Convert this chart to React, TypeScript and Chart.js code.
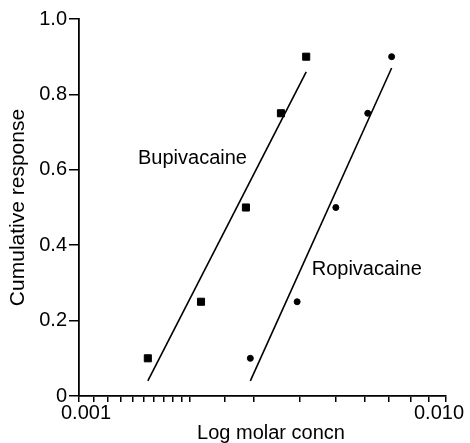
import React, { useEffect, useRef } from 'react';
import { Chart, registerables } from 'chart.js';

Chart.register(...registerables);

// ---- data ----
const RESPONSE = [0.1, 0.25, 0.5, 0.75, 0.9];
const BUPI_CONC = [0.00154, 0.00215, 0.00285, 0.00355, 0.00416];
const ROPI_CONC = [0.00293, 0.00393, 0.00501, 0.00612, 0.00711];

const BUPI_FIT_CONC = [0.00154, 0.00416];
const BUPI_FIT_RESP = [0.04, 0.86];
const ROPI_FIT_CONC = [0.00293, 0.00711];
const ROPI_FIT_RESP = [0.04, 0.87];

const Y_TICK_VALUES = [0, 0.2, 0.4, 0.6, 0.8, 1.0];
const Y_TICK_LABELS = ['0', '0.2', '0.4', '0.6', '0.8', '1.0'];
const X_MIN = 0.001;
const X_MAX = 0.01;
const X_TICK_VALUES = [0.001, 0.01];
const X_TICK_LABELS = ['0.001', '0.010'];

const SERIES_NAMES = ['Bupivacaine', 'Ropivacaine'];
const NAME_ANCHOR_CONC = [0.001448, 0.004306];
const NAME_ANCHOR_RESP = [0.615, 0.32];

const X_TITLE = 'Log molar concn';
const Y_TITLE = 'Cumulative response';

// ---- styles ----
const FONT = '"Liberation Sans", Arial, Helvetica, sans-serif';
const INK = '#000000';

const overlayPlugin = {
  id: 'overlay',
  afterDraw(chart: any) {
    const { ctx } = chart;
    const x = chart.scales.x;
    const y = chart.scales.y;
    ctx.save();
    ctx.fillStyle = INK;
    ctx.font = `20px ${FONT}`;
    ctx.textBaseline = 'alphabetic';
    ctx.textAlign = 'center';
    X_TICK_VALUES.forEach((v, i) => {
      const inset = i === 0 ? 7 : i === X_TICK_VALUES.length - 1 ? -7 : 0;
      ctx.fillText(X_TICK_LABELS[i], x.getPixelForValue(v) + inset, x.top + 23);
    });
    ctx.fillText(X_TITLE, (x.left + x.right) / 2 + 8.5, x.top + 43);
    ctx.textAlign = 'left';
    SERIES_NAMES.forEach((name, i) => {
      ctx.fillText(
        name,
        x.getPixelForValue(NAME_ANCHOR_CONC[i]),
        y.getPixelForValue(NAME_ANCHOR_RESP[i])
      );
    });
    ctx.restore();
  },
};

export default function App() {
  const canvasRef = useRef<HTMLCanvasElement | null>(null);

  useEffect(() => {
    const canvas = canvasRef.current;
    if (!canvas) return;
    Chart.defaults.font.family = FONT;
    Chart.defaults.color = INK;

    const toPts = (xs: number[], ys: number[]) => xs.map((v, i) => ({ x: v, y: ys[i] }));

    const chart = new Chart(canvas, {
      type: 'scatter',
      data: {
        datasets: [
          {
            label: SERIES_NAMES[0],
            data: toPts(BUPI_CONC, RESPONSE),
            pointStyle: 'rect',
            pointRadius: 5,
            borderWidth: 1,
            borderColor: INK,
            backgroundColor: INK,
            showLine: false,
          },
          {
            label: SERIES_NAMES[1],
            data: toPts(ROPI_CONC, RESPONSE),
            pointStyle: 'circle',
            pointRadius: 3,
            borderWidth: 1,
            borderColor: INK,
            backgroundColor: INK,
            showLine: false,
          },
          {
            label: SERIES_NAMES[0] + ' fit',
            data: toPts(BUPI_FIT_CONC, BUPI_FIT_RESP),
            showLine: true,
            pointRadius: 0,
            borderColor: INK,
            borderWidth: 1.6,
            backgroundColor: INK,
          },
          {
            label: SERIES_NAMES[1] + ' fit',
            data: toPts(ROPI_FIT_CONC, ROPI_FIT_RESP),
            showLine: true,
            pointRadius: 0,
            borderColor: INK,
            borderWidth: 1.6,
            backgroundColor: INK,
          },
        ],
      },
      options: {
        animation: false,
        responsive: false,
        devicePixelRatio: 1,
        layout: { padding: { top: 19, right: 24, left: 0, bottom: 0 } },
        plugins: {
          legend: { display: false },
          tooltip: { enabled: false },
        },
        scales: {
          x: {
            type: 'logarithmic',
            min: X_MIN,
            max: X_MAX,
            afterFit: (s: any) => {
              s.height = 47;
            },
            grid: {
              display: true,
              drawOnChartArea: false,
              drawTicks: true,
              tickLength: 6,
              color: INK,
              lineWidth: 1.5,
            },
            border: { display: true, color: INK, width: 1.8 },
            ticks: {
              autoSkip: false,
              callback: () => '',
            },
          },
          y: {
            type: 'linear',
            min: 0,
            max: 1,
            afterFit: (s: any) => {
              s.width = 79;
            },
            afterBuildTicks: (s: any) => {
              s.ticks = Y_TICK_VALUES.map((v) => ({ value: v }));
            },
            grid: {
              display: true,
              drawOnChartArea: false,
              drawTicks: true,
              tickLength: 10,
              color: INK,
              lineWidth: 1.5,
            },
            border: { display: true, color: INK, width: 1.8 },
            ticks: {
              padding: 2,
              color: INK,
              font: { size: 20, family: FONT },
              callback: (v: any) => {
                const idx = Y_TICK_VALUES.findIndex((t) => Math.abs(t - Number(v)) < 1e-9);
                return idx >= 0 ? Y_TICK_LABELS[idx] : '';
              },
            },
            title: {
              display: true,
              text: Y_TITLE,
              color: INK,
              font: { size: 21, family: FONT },
              padding: { top: 6, bottom: 0 },
            },
          },
        },
      },
      plugins: [overlayPlugin],
    });

    return () => chart.destroy();
  }, []);

  return (
    <div style={{ position: 'absolute', left: 0, top: 0, width: 470, height: 443, background: '#fff' }}>
      <canvas ref={canvasRef} width={470} height={443} style={{ display: 'block', width: 470, height: 443 }} />
    </div>
  );
}
